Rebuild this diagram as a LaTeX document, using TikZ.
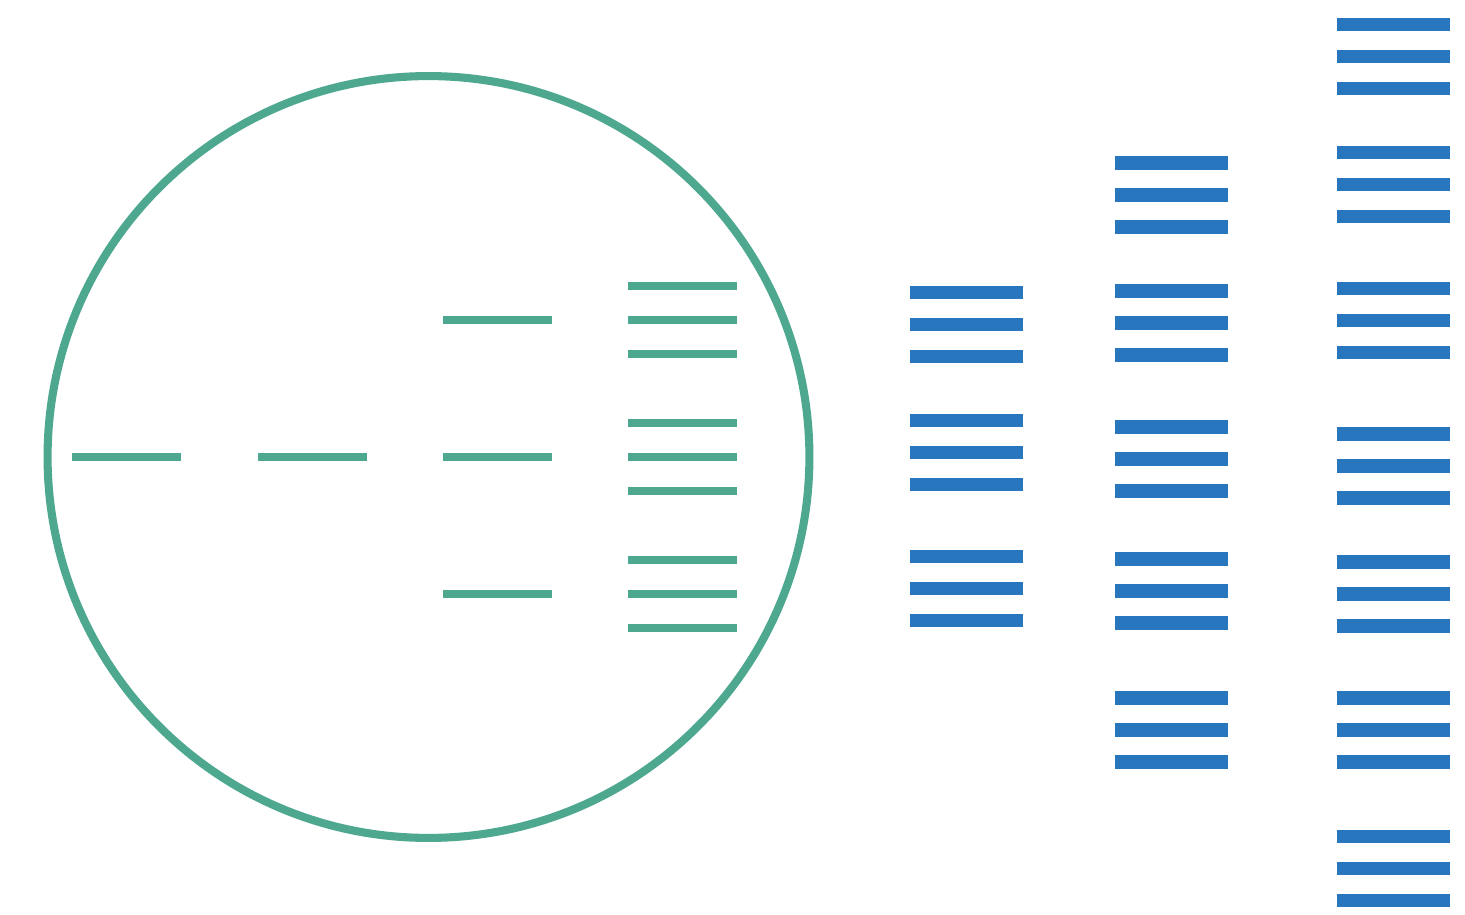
\documentclass[tikz,border=0pt]{standalone}
\definecolor{tealgreen}{RGB}{77,168,143}
\definecolor{barblue}{RGB}{39,118,190}
\tikzset{
  greenbar/.style={draw=tealgreen, line width=4.6pt},
  bluebar/.style={draw=barblue, line width=7.6pt}
}
\begin{document}
\begin{tikzpicture}[x=0.02cm, y=-0.02cm]
      \useasboundingbox (0,0) rectangle (1465,915);
      \draw[tealgreen, line width=4.6pt] (428.5,457) circle [radius=7.62cm];
      % green dashes inside the circle
      \draw[greenbar] (72,457) -- (181,457);
      \draw[greenbar] (258,457) -- (367,457);
      \foreach \y in {320,457,594}
        \draw[greenbar] (443,\y) -- (552,\y);
      \foreach \c in {320,457,594}
        \foreach \d in {-34,0,34}
          \draw[greenbar] (628,\c+\d) -- (737,\c+\d);
      % blue columns
      \foreach \c in {324.5,452.5,588.5}
        \foreach \d in {-32,0,32}
          \draw[bluebar] (910,\c+\d) -- (1023,\c+\d);
      \foreach \c in {195,323,459,591,730}
        \foreach \d in {-32,0,32}
          \draw[bluebar] (1114.5,\c+\d) -- (1228,\c+\d);
      \foreach \c in {56.5,184.5,320.5,466,594,730,868.5}
        \foreach \d in {-32,0,32}
          \draw[bluebar] (1337,\c+\d) -- (1450,\c+\d);
    \end{tikzpicture}
\end{document}
